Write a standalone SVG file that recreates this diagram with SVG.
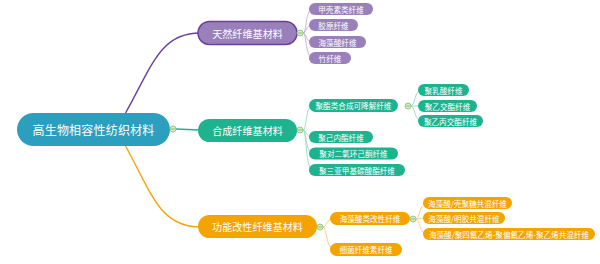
<svg xmlns="http://www.w3.org/2000/svg" width="600" height="264" viewBox="0 0 600 264">
<style>
text{font-family:"Noto Sans CJK SC","Noto Sans",sans-serif;fill:#fff;dominant-baseline:central}
.t0{font-size:12px;letter-spacing:0.2px}
.t1{font-size:10px;letter-spacing:0.1px}
.t2{font-size:7.6px}
.p{fill:#9a80ba}
.pb{fill:#9a80ba;stroke:#6a3fa0;stroke-width:1.5}
.g{fill:#1db38f}
.o{fill:#f5a300}
.lp{fill:none;stroke:#c7b5dc;stroke-width:1}
.lg{fill:none;stroke:#a0e0ca;stroke-width:1}
.lo{fill:none;stroke:#f8d08a;stroke-width:1}
.tog circle{fill:#d3edc2;stroke:#86bd72;stroke-width:0.8}
.tog line{stroke:#6fa85c;stroke-width:0.7}
</style>
<g id="connectors">
<path d="M125,114 C152,66 160,33 200,33" fill="none" stroke="#6a3fa0" stroke-width="1.4"/>
<path d="M125,145 C152,194 160,227 200,227" fill="none" stroke="#f5a300" stroke-width="1.4"/>
<path d="M176,129 L200,130" fill="none" stroke="#1db38f" stroke-width="1.4"/>
<path class="lp" d="M303,33 C307,33 305,9 313,9"/>
<path class="lp" d="M303,33 C307,33 305,25 313,25"/>
<path class="lp" d="M303,33 C307,33 305,42 313,42"/>
<path class="lp" d="M303,33 C307,33 305,58 313,58"/>
<path class="lg" d="M303,130 C307,130 305,105.5 313,105.5"/>
<path class="lg" d="M303,130 C307,130 305,137 313,137"/>
<path class="lg" d="M303,130 C307,130 305,153.5 313,153.5"/>
<path class="lg" d="M303,130 C307,130 305,170 313,170"/>
<path class="lg" d="M411,106 C415,106 414,90 422,90"/>
<path class="lg" d="M411,106 L422,106"/>
<path class="lg" d="M411,106 C415,106 414,121 422,121"/>
<path class="lo" d="M323,227 C327,227 326,218.5 334,218.5"/>
<path class="lo" d="M323,227 C327,227 326,249.5 334,249.5"/>
<path class="lo" d="M416,219 C420,219 419,203 427,203"/>
<path class="lo" d="M416,219 L427,218"/>
<path class="lo" d="M416,219 C420,219 419,234 427,234"/>
</g>
<g id="root"><rect x="17" y="113" width="153" height="33" rx="16.5" fill="#2b9fbd"/><text class="t0" x="93.5" y="129.5" text-anchor="middle">高生物相容性纺织材料</text></g>
<g id="b1"><rect class="pb" x="198" y="21.5" width="99" height="23" rx="11.5"/><text class="t1" x="247.5" y="33" text-anchor="middle">天然纤维基材料</text></g>
<g id="b2"><rect class="g" x="198" y="119" width="99" height="23" rx="11.5"/><text class="t1" x="247.5" y="130.5" text-anchor="middle">合成纤维基材料</text></g>
<g id="b3"><rect class="o" x="198" y="215" width="119" height="23" rx="11.5"/><text class="t1" x="257.5" y="226.5" text-anchor="middle">功能改性纤维基材料</text></g>
<g id="n1"><rect class="p" x="309" y="3" width="64" height="12" rx="6"/><text class="t2" x="341" y="9" text-anchor="middle">甲壳素类纤维</text></g>
<g id="n2"><rect class="p" x="309" y="19" width="49" height="12" rx="6"/><text class="t2" x="333.5" y="25" text-anchor="middle">胶原纤维</text></g>
<g id="n3"><rect class="p" x="309" y="36" width="57" height="12" rx="6"/><text class="t2" x="337.5" y="42" text-anchor="middle">海藻酸纤维</text></g>
<g id="n4"><rect class="p" x="309" y="52" width="42" height="12" rx="6"/><text class="t2" x="330" y="58" text-anchor="middle">竹纤维</text></g>
<g id="n5"><rect class="g" x="309" y="99" width="89" height="13" rx="6.5"/><text class="t2" x="353.5" y="105.5" text-anchor="middle">聚酯类合成可降解纤维</text></g>
<g id="n6"><rect class="g" x="418" y="84" width="51" height="12" rx="6"/><text class="t2" x="443.5" y="90" text-anchor="middle">聚乳酸纤维</text></g>
<g id="n7"><rect class="g" x="418" y="100" width="59" height="12" rx="6"/><text class="t2" x="447.5" y="106" text-anchor="middle">聚乙交酯纤维</text></g>
<g id="n8"><rect class="g" x="418" y="115" width="65" height="12" rx="6"/><text class="t2" x="450.5" y="121" text-anchor="middle">聚乙丙交酯纤维</text></g>
<g id="n9"><rect class="g" x="309" y="131" width="64" height="12" rx="6"/><text class="t2" x="341" y="137" text-anchor="middle">聚己内酯纤维</text></g>
<g id="n10"><rect class="g" x="309" y="147.5" width="89" height="12" rx="6"/><text class="t2" x="353.5" y="153.5" text-anchor="middle">聚对二氧环己酮纤维</text></g>
<g id="n11"><rect class="g" x="309" y="164" width="96" height="12" rx="6"/><text class="t2" x="357" y="170" text-anchor="middle">聚三亚甲基碳酸酯纤维</text></g>
<g id="n12"><rect class="o" x="330" y="212" width="80" height="13" rx="6.5"/><text class="t2" x="370" y="218.5" text-anchor="middle">海藻酸类改性纤维</text></g>
<g id="n13"><rect class="o" x="330" y="243" width="72" height="13" rx="6.5"/><text class="t2" x="366" y="249.5" text-anchor="middle">细菌纤维素纤维</text></g>
<g id="n14"><rect class="o" x="423" y="197" width="89" height="12" rx="6"/><text class="t2" x="467.5" y="203" text-anchor="middle">海藻酸/壳聚糖共混纤维</text></g>
<g id="n15"><rect class="o" x="423" y="212" width="82" height="12" rx="6"/><text class="t2" x="464" y="218" text-anchor="middle">海藻酸/明胶共混纤维</text></g>
<g id="n16"><rect class="o" x="423" y="228" width="172" height="12" rx="6"/><text class="t2" x="509" y="234" text-anchor="middle">海藻酸/聚四氟乙烯-聚偏氟乙烯-聚乙烯共混纤维</text></g>
<g id="toggles" class="tog">
<circle cx="173" cy="129" r="3"/><line x1="171.2" y1="129" x2="174.8" y2="129"/>
<circle cx="300" cy="33" r="3"/><line x1="298.2" y1="33" x2="301.8" y2="33"/>
<circle cx="300" cy="130" r="3"/><line x1="298.2" y1="130" x2="301.8" y2="130"/>
<circle cx="408" cy="106" r="3"/><line x1="406.2" y1="106" x2="409.8" y2="106"/>
<circle cx="320" cy="227" r="3"/><line x1="318.2" y1="227" x2="321.8" y2="227"/>
<circle cx="413" cy="219" r="3"/><line x1="411.2" y1="219" x2="414.8" y2="219"/>
</g>
</svg>
